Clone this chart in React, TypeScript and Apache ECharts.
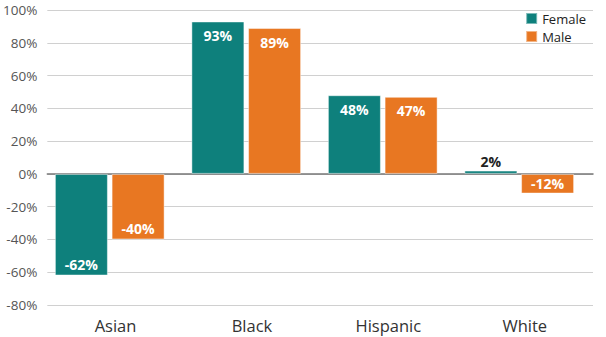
import React, { useEffect, useRef } from "react";
import * as echarts from "echarts";

const categories = ["Asian", "Black", "Hispanic", "White"];
const femaleValues = [-62, 93, 48, 2];
const maleValues = [-40, 89, 47, -12];
const yMin = -80;
const yMax = 100;
const yInterval = 20;

const FONT = "'Open Sans', 'DejaVu Sans', sans-serif";
const TEAL = "#0e807c";
const ORANGE = "#e87722";

function makeData(values: number[]) {
  return values.map((v) => {
    let label: any;
    if (v < 0 && v > -15) {
      label = { position: "inside", color: "#fff" };
    } else if (v < 0) {
      label = { position: "insideBottom", distance: 4, color: "#fff" };
    } else if (v < 10) {
      label = { position: "top", distance: 2, color: "#222" };
    } else {
      label = { position: "insideTop", distance: 7, color: "#fff" };
    }
    return { value: v, label };
  });
}

export default function App() {
  const ref = useRef<HTMLDivElement>(null);
  useEffect(() => {
    if (!ref.current) return;
    const chart = echarts.init(ref.current, undefined, { renderer: "svg" });
    const labelBase = {
      show: true,
      fontFamily: FONT,
      fontWeight: "bold",
      fontSize: 14,
      formatter: (p: any) => `${p.value}%`,
    };
    const barStyle = (color: string) => ({
      color,
      borderColor: "rgba(255,255,255,0.45)",
      borderWidth: 1,
    });
    chart.setOption({
      animation: false,
      backgroundColor: "#fff",
      grid: [
        { left: 47, right: 13, top: 10, bottom: 32, containLabel: false },
        { left: 41.5, right: 18.5, top: 10, bottom: 32, containLabel: false },
      ],
      legend: {
        orient: "vertical",
        right: 15,
        top: 6,
        icon: "rect",
        itemWidth: 11,
        itemHeight: 11,
        itemGap: 3,
        textStyle: { fontFamily: FONT, fontSize: 13, lineHeight: 15, color: "#222" },
        data: ["Female", "Male"],
      },
      xAxis: [
        {
          type: "category",
          gridIndex: 0,
          data: categories,
          axisLine: { show: true, onZero: true, lineStyle: { color: "#777", width: 1.5 } },
          axisTick: { show: false },
          axisLabel: {
            fontFamily: FONT,
            fontSize: 16.5,
            color: "#333",
            margin: 12,
          },
          z: 1,
        },
        {
          type: "category",
          gridIndex: 1,
          data: categories,
          show: false,
        },
      ],
      yAxis: [
        {
          type: "value",
          gridIndex: 0,
          min: yMin,
          max: yMax,
          interval: yInterval,
          axisLine: { show: false },
          axisTick: { show: false },
          splitLine: { lineStyle: { color: "#d0d0d0", width: 1 } },
          axisLabel: {
            fontFamily: FONT,
            fontSize: 13.5,
            color: "#555",
            margin: 10,
            formatter: (v: number) => `${v}%`,
          },
        },
        {
          type: "value",
          gridIndex: 1,
          min: yMin,
          max: yMax,
          interval: yInterval,
          show: false,
          splitLine: { show: false },
        },
      ],
      series: [
        {
          name: "Female",
          type: "bar",
          xAxisIndex: 1,
          yAxisIndex: 1,
          data: makeData(femaleValues),
          barWidth: 53,
          barGap: "7%",
          itemStyle: barStyle(TEAL),
          label: labelBase,
        },
        {
          name: "Male",
          type: "bar",
          xAxisIndex: 1,
          yAxisIndex: 1,
          data: makeData(maleValues),
          barWidth: 53,
          barGap: "7%",
          itemStyle: barStyle(ORANGE),
          label: labelBase,
        },
      ],
    });
    return () => chart.dispose();
  }, []);
  return (
    <div
      ref={ref}
      style={{ position: "fixed", left: 0, top: 0, width: 606, height: 337 }}
    />
  );
}
